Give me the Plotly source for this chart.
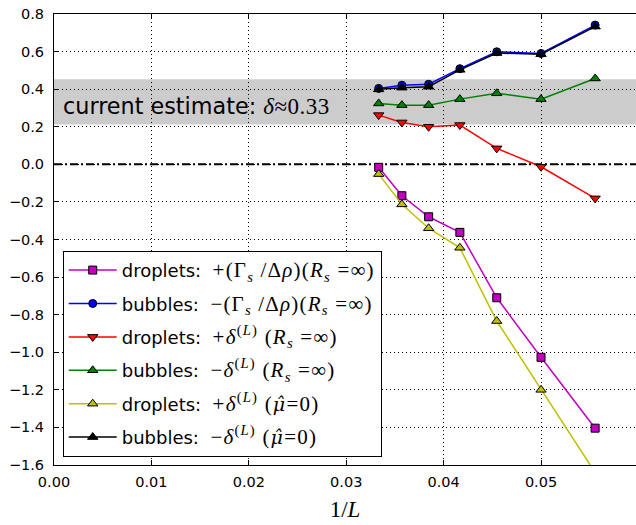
import plotly.graph_objects as go

# ---- data ----
L_values = [30, 28, 26, 24, 22, 20, 18]
inv_L = [1.0 / L for L in L_values]

droplets_gamma = [-0.016, -0.167, -0.279, -0.362, -0.710, -1.027, -1.404]
bubbles_gamma = [0.404, 0.421, 0.426, 0.509, 0.599, 0.590, 0.741]
droplets_dL = [0.262, 0.223, 0.200, 0.209, 0.085, -0.013, -0.181]
bubbles_dL = [0.324, 0.315, 0.315, 0.347, 0.378, 0.347, 0.457]
droplets_mu = [-0.052, -0.213, -0.340, -0.444, -0.834, -1.200, -1.640]
bubbles_mu = [0.399, 0.408, 0.413, 0.503, 0.592, 0.586, 0.733]

band_low, band_high = 0.212, 0.453
estimate_text = "current estimate: "

x_ticks = [0.00, 0.01, 0.02, 0.03, 0.04, 0.05]
y_ticks = [-1.6, -1.4, -1.2, -1.0, -0.8, -0.6, -0.4, -0.2, 0.0, 0.2, 0.4, 0.6, 0.8]


def m(s, size=21, fam="Liberation Serif", ls=1.2):
    return (f'<span style="font-family:{fam};font-size:{size}px;letter-spacing:{ls}px">'
            f'{s}</span>')


NB = "\u00a0"
MU = m("<i>μ̂</i>", 19, "DejaVu Serif", 1.2)
labels = [
    "droplets:" + NB + NB + m("+(Γ<sub><i>s</i></sub> /Δ<i>ρ</i>)(<i>R</i><sub><i>s</i></sub> =∞)"),
    "bubbles:" + NB + NB + m("−(Γ<sub><i>s</i></sub> /Δ<i>ρ</i>)(<i>R</i><sub><i>s</i></sub> =∞)"),
    "droplets:" + NB + NB + m("+<i>δ</i><sup>(<i>L</i>)</sup> (<i>R</i><sub><i>s</i></sub> =∞)"),
    "bubbles:" + NB + NB + m("−<i>δ</i><sup>(<i>L</i>)</sup> (<i>R</i><sub><i>s</i></sub> =∞)"),
    "droplets:" + NB + NB + m("+<i>δ</i><sup>(<i>L</i>)</sup> (") + MU + m("=0)"),
    "bubbles:" + NB + NB + m("−<i>δ</i><sup>(<i>L</i>)</sup> (") + MU + m("=0)"),
]
series = [droplets_gamma, bubbles_gamma, droplets_dL, bubbles_dL, droplets_mu, bubbles_mu]
colors = ["#bf00bf", "#0000ff", "#ff0000", "#008000", "#bfbf00", "#000000"]
symbols = ["square", "circle", "triangle-down", "triangle-up", "triangle-up", "triangle-up"]
sizes = [8, 8, 9, 9, 9, 9]

fig = go.Figure()
for i, (ys, lab, c, s, sz) in enumerate(zip(series, labels, colors, symbols, sizes)):
    fig.add_trace(go.Scatter(
        x=inv_L, y=ys, mode="lines+markers", name=lab,
        legendgroup=f"g{i}",
        line=dict(color=c, width=1.5),
        marker=dict(symbol=s, size=sz, color=c, line=dict(color="black", width=1)),
    ))

# grey band
fig.add_shape(type="rect", xref="paper", yref="y", x0=0, x1=1, y0=band_low, y1=band_high,
              fillcolor="#cccccc", line=dict(width=0), layer="below")
# zero line
fig.add_shape(type="line", xref="paper", yref="y", x0=0, x1=1, y0=0, y1=0,
              line=dict(color="black", width=2, dash="8px,3px,2px,3px"), layer="between")

fig.add_annotation(xref="paper", yref="y", x=0.012, y=0.31, xanchor="left", yanchor="middle",
                   text=estimate_text + m("<i>δ</i>≈0.33", 23, ls=0.5), showarrow=False,
                   font=dict(family="DejaVu Sans", size=22.3, color="black"))

axis_common = dict(
    showgrid=True, gridcolor="black", griddash="1px,3px", gridwidth=1,
    showline=True, linecolor="black", linewidth=1,
    ticks="inside", ticklen=5, tickcolor="black", tickwidth=1,
    zeroline=False,
    tickfont=dict(family="DejaVu Sans", size=14.5, color="black"),
)

fig.update_xaxes(range=[0, 0.05975], tickvals=x_ticks, tickformat=".2f",
                 mirror="allticks", ticklabelstandoff=4,
                 title=dict(text="1/<i>L</i>", font=dict(family="Liberation Serif", size=23, color="black"),
                            standoff=11),
                 **axis_common)
fig.update_yaxes(range=[-1.6, 0.8], tickvals=y_ticks, tickformat=".1f", ticklabelstandoff=6,
                 **axis_common)

fig.update_layout(
    width=636, height=525,
    margin=dict(l=54, r=0, t=14, b=60),
    plot_bgcolor="white", paper_bgcolor="white",
    font=dict(family="DejaVu Sans", color="black"),
    legend=dict(
        x=0.015, y=0.018, xanchor="left", yanchor="bottom",
        bgcolor="white", bordercolor="black", borderwidth=1,
        font=dict(family="DejaVu Sans", size=18, color="black"),
        traceorder="grouped", tracegroupgap=7, itemwidth=48,
    ),
    showlegend=True,
)

fig.write_html("out.html")
